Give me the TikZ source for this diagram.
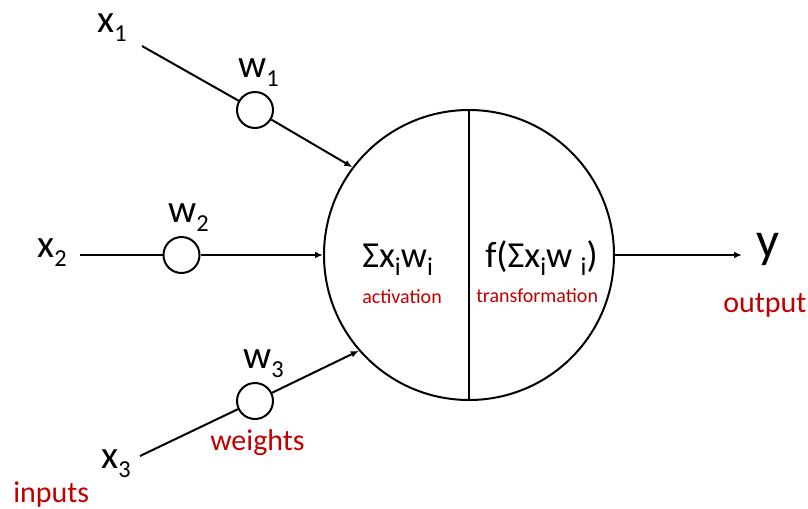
\documentclass[tikz,border=0pt]{standalone}
\usepackage{fontspec}
\setmainfont{Carlito}
\usetikzlibrary{arrows.meta}
\definecolor{lblred}{HTML}{C00000}
\newcommand\lowsub[1]{\raisebox{-0.24em}{\scalebox{0.62}{#1}}}
\newcommand\isub[1]{\raisebox{-0.24em}{\scalebox{0.7}{#1}}}
\begin{document}
\begin{tikzpicture}[x=0.75pt,y=-0.75pt,
  link/.style={line width=1.5pt},
  arr/.style={line width=1.5pt,-{Latex[length=6pt,width=5pt]}},
  wcirc/.style={circle,draw,line width=1.5pt,minimum size=27pt,inner sep=0pt,fill=white},
  neuron/.style={circle,draw,line width=1.5pt,minimum size=217.5pt,inner sep=0pt},
  inlbl/.style={anchor=base west,inner sep=0pt,font=\fontsize{29.5}{33}\selectfont},
  fnlbl/.style={anchor=base west,inner sep=0pt,font=\fontsize{27.5}{31}\selectfont},
  redsmall/.style={anchor=base west,inner sep=0pt,text=lblred,font=\fontsize{15}{18}\selectfont},
  redbig/.style={anchor=base west,inner sep=0pt,text=lblred,font=\fontsize{22.5}{26}\selectfont}]
\useasboundingbox (0,0) rectangle (808,508);
% neuron
\node[neuron] (n) at (469,255) {};
\draw[line width=0.8pt] (n.north) -- (n.south);
% weight circles
\node[wcirc] (c1) at (255,110) {};
\node[wcirc] (c2) at (181.5,255) {};
\node[wcirc] (c3) at (255,401) {};
% line start points
\coordinate (s1) at (142,46);
\coordinate (s2) at (80,255);
\coordinate (s3) at (140,456);
\coordinate (yend) at (742,255);
% connectors
\draw[link] (s1) -- (c1);
\draw[arr] (c1) -- (n.143);
\draw[link] (s2) -- (c2);
\draw[arr] (c2) -- (n.west);
\draw[link] (s3) -- (c3);
\draw[arr] (c3) -- (n.221);
\draw[arr] (n.east) -- (yend);
% labels
\node[inlbl] (lx1) at (97,32) {x\lowsub{1}};
\node[inlbl] (lx2) at (37,257) {x\lowsub{2}};
\node[inlbl] (lx3) at (101,468) {x\lowsub{3}};
\node[inlbl] (lw1) at (238,77) {w\lowsub{1}};
\node[inlbl] (lw2) at (168,222) {w\lowsub{2}};
\node[inlbl] (lw3) at (243,368) {w\lowsub{3}};
\node[anchor=base west,inner sep=0pt,font=\fontsize{38}{42}\selectfont] (ly) at (756,257) {y};
\node[fnlbl] (sum) at (362,267) {Σx\isub{i}w\isub{i}};
\node[fnlbl] (fsum) at (485,267) {f(Σx\isub{i}w \isub{i})};
\node[redsmall] (act) at (362,303) {activation};
\node[redsmall] (trf) at (476,302) {transformation};
\node[redbig] (outl) at (723,312) {output};
\node[redbig] (inl) at (13,502) {inputs};
\node[redbig] (wl) at (210,450) {weights};
\end{tikzpicture}
\end{document}
